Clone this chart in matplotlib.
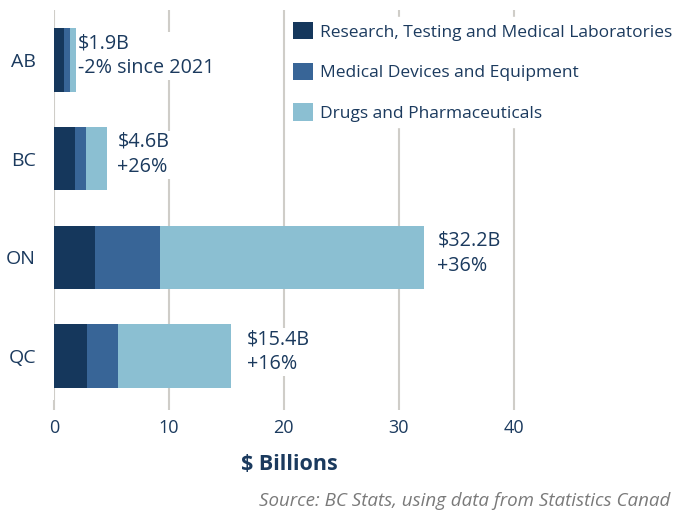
import numpy as np
import matplotlib
matplotlib.use("Agg")
import matplotlib.pyplot as plt

# Provinces and sector spending ($ billions)
provinces = ["AB", "BC", "ON", "QC"]
labs = [0.85, 1.85, 3.55, 2.9]
devices = [0.55, 0.9, 5.65, 2.7]
drugs = [0.5, 1.85, 23.0, 9.8]
totals = ["$1.9B", "$4.6B", "$32.2B", "$15.4B"]
changes = ["-2% since 2021", "+26%", "+36%", "+16%"]
series_names = ["Research, Testing and Medical Laboratories",
                "Medical Devices and Equipment",
                "Drugs and Pharmaceuticals"]

colors = ["#15375c", "#386597", "#8bbfd2"]
text_color = "#1b3a5e"
grid_color = "#cfcdc8"

plt.rcParams['font.family'] = ["Open Sans", "DejaVu Sans"]

fig = plt.figure(figsize=(6.73, 5.14), dpi=100)
ax = fig.add_axes([54 / 673, 114 / 514, 471 / 673, 390 / 514])

y = np.arange(len(provinces))
left = np.zeros(len(provinces))
for vals, col, name in zip([labs, devices, drugs], colors, series_names):
    ax.barh(y, vals, left=left, height=0.64, color=col, label=name, zorder=3)
    left = left + np.array(vals)

ax.set_xlim(0, 41)
ax.set_ylim(3.446, -0.507)
ax.set_xticks([0, 10, 20, 30, 40])
ax.set_yticks(y)
ax.set_yticklabels(provinces)
ax.grid(axis="x", color=grid_color, linewidth=1.5, zorder=0)
for s in ax.spines.values():
    s.set_visible(False)
ax.tick_params(axis="x", colors=grid_color, labelcolor=text_color, labelsize=13,
               length=7, width=1.5, pad=7)
ax.tick_params(axis="y", length=0, labelcolor=text_color, labelsize=14, pad=13)
ax.set_xlabel("$ Billions", fontsize=15.5, fontweight="bold", color=text_color, labelpad=12)

# Total and growth labels next to each bar
offsets = [2, 10, 13, 15]
for i, (t, c) in enumerate(zip(totals, changes)):
    ax.annotate(f"{t}\n{c}", xy=(left[i], y[i]), xytext=(offsets[i] * 0.75, 3),
                textcoords="offset points", ha="left", va="center",
                fontsize=14.2, color=text_color, linespacing=1.35,
                bbox=dict(facecolor="white", edgecolor="none", pad=1),
                annotation_clip=False, zorder=4)

leg = ax.legend(loc="upper left", bbox_to_anchor=(288 / 673, 497 / 514),
                bbox_transform=fig.transFigure, frameon=True, fancybox=False,
                edgecolor="white", framealpha=1, fontsize=12.5,
                handlelength=1.15, handleheight=1.15, handletextpad=0.4,
                labelspacing=1.27, borderpad=0.3, borderaxespad=0)
for txt in leg.get_texts():
    txt.set_color(text_color)
leg.set_zorder(5)

fig.text(670 / 673, 13 / 514, "Source: BC Stats, using data from Statistics Canad",
         ha="right", va="center", fontsize=13.5, style="italic", color="#7a7a7a")

fig.savefig("out.png", dpi=100)
